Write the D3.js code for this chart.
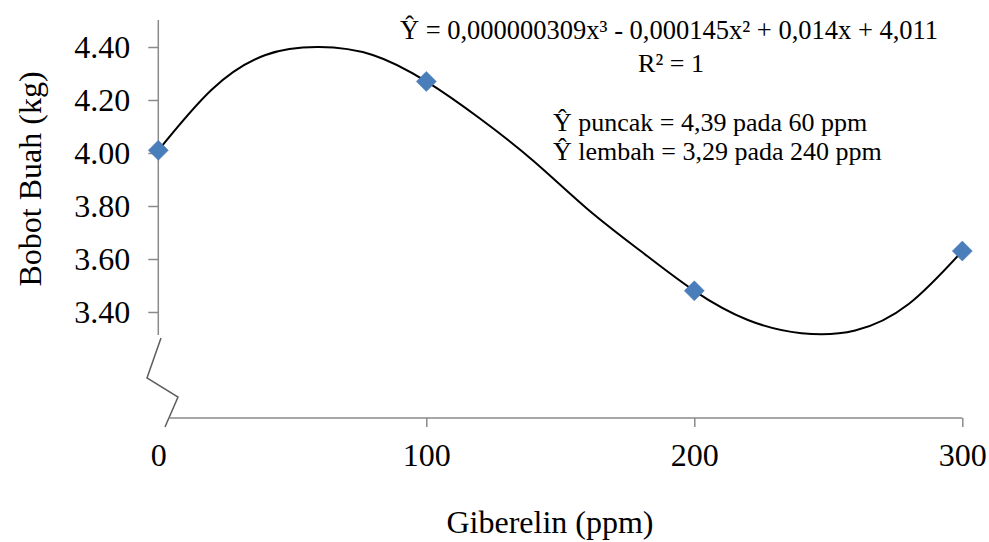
<!DOCTYPE html>
<html>
<head>
<meta charset="utf-8">
<script src="https://cdn.jsdelivr.net/npm/d3@7"></script>
<style>
  body { margin: 0; background: #fff; }
  svg text { font-family: "Liberation Serif", "Times New Roman", serif; }
</style>
</head>
<body>
<svg id="chart" width="989" height="542"></svg>
<script>
// observed means
const dosis = [0, 100, 200, 300];
const bobot = [4.01, 4.27, 3.48, 3.63];

// cubic trendline
const trendX = [0, 20, 40, 60, 80, 100, 120, 140, 160, 180, 200, 220, 240, 260, 280, 300];
const trendY = [4.01, 4.24, 4.37, 4.40, 4.37, 4.27, 4.13, 3.97, 3.79, 3.63, 3.48, 3.37, 3.32, 3.33, 3.43, 3.63];

const yTicks = [3.4, 3.6, 3.8, 4.0, 4.2, 4.4];
const xTicks = [0, 100, 200, 300];

const eqText = "Ŷ = 0,000000309x³ - 0,000145x² + 0,014x + 4,011";
const r2Text = "R² = 1";
const notes = ["Ŷ puncak = 4,39 pada 60 ppm", "Ŷ lembah = 3,29 pada 240 ppm"];

const serif = "'Liberation Serif', 'Times New Roman', serif";
const svg = d3.select("#chart").attr("font-family", serif);
const axisColor = "#8a8a8a";

const x = d3.scaleLinear().domain([0, 300]).range([158.3, 962.3]);
const y = d3.scaleLinear().domain([3.0, 4.5]).range([418, 20.5]);

// y axis
const gy = svg.append("g")
    .attr("transform", "translate(" + x(0) + ",0)")
    .call(d3.axisLeft(y).tickValues(yTicks).tickSize(10).tickPadding(18)
        .tickFormat(d3.format(".2f")))
    .attr("font-family", serif);
gy.select(".domain").remove();
gy.selectAll(".tick line").attr("stroke", axisColor).attr("stroke-width", 1.5);
gy.selectAll(".tick text").attr("font-size", "32px").attr("fill", "#000");

svg.append("line")
    .attr("x1", x(0)).attr("x2", x(0))
    .attr("y1", 20).attr("y2", 335)
    .attr("stroke", axisColor).attr("stroke-width", 1.5);

// axis break
svg.append("path")
    .attr("d", "M161,338L147,378L178,397L165,427")
    .attr("fill", "none")
    .attr("stroke", "#5e5e5e")
    .attr("stroke-width", 1.5);

// x axis
const gx = svg.append("g")
    .attr("transform", "translate(0," + y(3.0) + ")")
    .call(d3.axisBottom(x).tickValues(xTicks).tickSize(9).tickPadding(16)
        .tickFormat(d3.format("d")))
    .attr("font-family", serif);
gx.select(".domain").remove();
gx.selectAll(".tick line").attr("stroke", axisColor).attr("stroke-width", 1.5)
    .attr("opacity", d => d === 0 ? 0 : 1);
gx.selectAll(".tick text").attr("font-size", "32px").attr("fill", "#000");

svg.append("line")
    .attr("x1", 169).attr("x2", x(300))
    .attr("y1", y(3.0)).attr("y2", y(3.0))
    .attr("stroke", axisColor).attr("stroke-width", 1.5);

// trendline
const line = d3.line()
    .x((d, i) => x(trendX[i]))
    .y(d => y(d))
    .curve(d3.curveNatural);

svg.append("path")
    .datum(trendY)
    .attr("d", line)
    .attr("fill", "none")
    .attr("stroke", "#000")
    .attr("stroke-width", 2);

// markers
svg.append("g").selectAll("path")
    .data(bobot)
    .join("path")
    .attr("d", d3.symbol(d3.symbolSquare, 200))
    .attr("transform", (d, i) => "translate(" + x(dosis[i]) + "," + y(d) + ") rotate(45)")
    .attr("fill", "#4a7ebb")
    .attr("stroke", "#4577b5")
    .attr("stroke-width", 0.5);

// equation
svg.append("text")
    .attr("x", 669).attr("y", 39)
    .attr("text-anchor", "middle")
    .attr("font-size", "26.5px")
    .text(eqText);
svg.append("text")
    .attr("x", 671).attr("y", 72)
    .attr("text-anchor", "middle")
    .attr("font-size", "26px")
    .text(r2Text);

svg.selectAll(".note")
    .data(notes)
    .join("text")
    .attr("class", "note")
    .attr("x", 553)
    .attr("y", (d, i) => 131 + i * 29)
    .attr("font-size", "26px")
    .text(d => d);

// axis titles
svg.append("text")
    .attr("transform", "translate(41,179) rotate(-90)")
    .attr("text-anchor", "middle")
    .attr("font-size", "32px")
    .text("Bobot Buah (kg)");

svg.append("text")
    .attr("x", 550).attr("y", 533)
    .attr("text-anchor", "middle")
    .attr("font-size", "32px")
    .text("Giberelin (ppm)");
</script>
</body>
</html>
